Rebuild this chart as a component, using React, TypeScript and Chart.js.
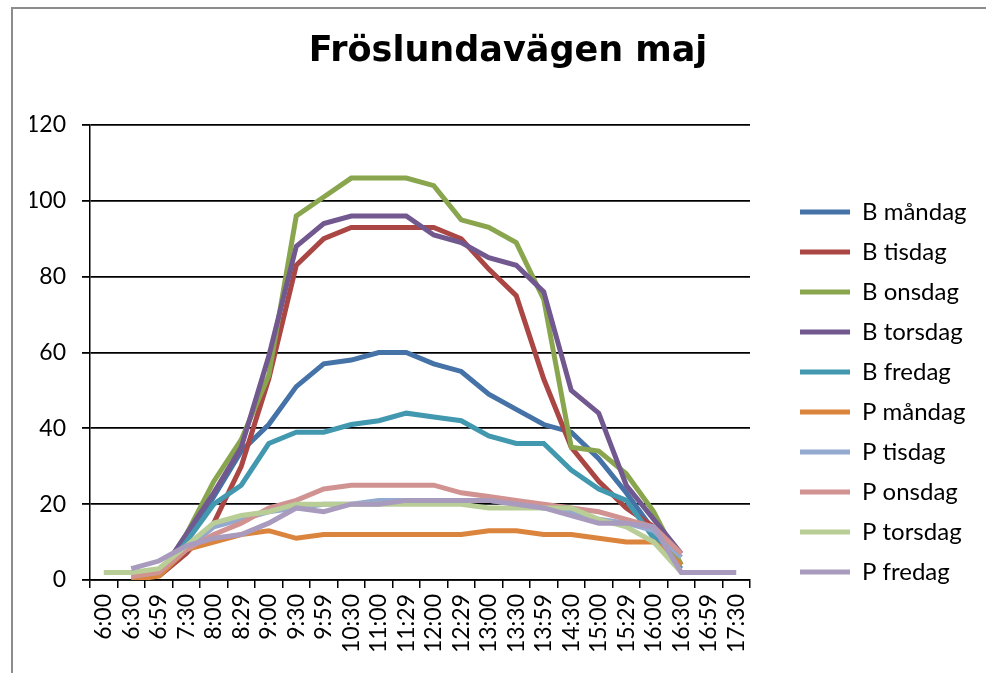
import React, { useEffect, useRef } from "react";
import { Chart, registerables } from "chart.js";

Chart.register(...registerables);

const TITLE = "Fröslundavägen maj";

const timeLabels = [
  "6:00", "6:30", "6:59", "7:30", "8:00", "8:29", "9:00", "9:30", "9:59", "10:30",
  "11:00", "11:29", "12:00", "12:29", "13:00", "13:30", "13:59", "14:30", "15:00",
  "15:29", "16:00", "16:30", "16:59", "17:30",
];

const seriesNames = [
  "B måndag", "B tisdag", "B onsdag", "B torsdag", "B fredag",
  "P måndag", "P tisdag", "P onsdag", "P torsdag", "P fredag",
];

const seriesColors = [
  "#4572A7", "#AA4643", "#89A54E", "#71588F", "#4198AF",
  "#DB843D", "#93A9CF", "#D19392", "#B9CD96", "#A99BBD",
];

const bMandag = [null, null, 1, 11, 22, 34, 41, 51, 57, 58, 60, 60, 57, 55, 49, 45, 41, 39, 32, 23, 13, 4, null, null];
const bTisdag = [null, null, 1, 7, 15, 30, 53, 83, 90, 93, 93, 93, 93, 90, 82, 75, 53, 35, 26, 19, 14, 4, null, null];
const bOnsdag = [null, null, 1, 12, 26, 37, 54, 96, 101, 106, 106, 106, 104, 95, 93, 89, 74, 35, 34, 28, 18, 4, null, null];
const bTorsdag = [null, null, 1, 12, 23, 35, 59, 88, 94, 96, 96, 96, 91, 89, 85, 83, 76, 50, 44, 25, 16, 7, null, null];
const bFredag = [null, null, 1, 10, 20, 25, 36, 39, 39, 41, 42, 44, 43, 42, 38, 36, 36, 29, 24, 21, 11, 3, null, null];
const pMandag = [null, 0, 1, 8, 10, 12, 13, 11, 12, 12, 12, 12, 12, 12, 13, 13, 12, 12, 11, 10, 10, 4, null, null];
const pTisdag = [null, 1, 2, 8, 14, 16, 18, 19, 20, 20, 21, 21, 21, 21, 21, 20, 19, 18, 16, 15, 13, 6, null, null];
const pOnsdag = [null, 1, 2, 8, 12, 15, 19, 21, 24, 25, 25, 25, 25, 23, 22, 21, 20, 19, 18, 16, 14, 7, null, null];
const pTorsdag = [2, 2, 3, 9, 15, 17, 18, 20, 20, 20, 20, 20, 20, 20, 19, 19, 19, 19, 16, 14, 10, 2, null, null];
const pFredag = [null, 3, 5, 9, 11, 12, 15, 19, 18, 20, 20, 21, 21, 21, 21, 20, 19, 17, 15, 15, 14, 2, 2, 2];

const seriesValues = [bMandag, bTisdag, bOnsdag, bTorsdag, bFredag, pMandag, pTisdag, pOnsdag, pTorsdag, pFredag];

const yTicks = [0, 20, 40, 60, 80, 100, 120];

const FONT = "Lato, 'Open Sans', sans-serif";
const TITLE_FONT = "'DejaVu Sans', sans-serif";

export default function App() {
  const canvasRef = useRef<HTMLCanvasElement | null>(null);

  useEffect(() => {
    const canvas = canvasRef.current;
    if (!canvas) return;
    const chart = new Chart(canvas, {
      type: "line",
      data: {
        labels: timeLabels,
        datasets: seriesNames.map((name, i) => ({
          label: name,
          data: seriesValues[i],
          borderColor: seriesColors[i],
          backgroundColor: seriesColors[i],
          borderWidth: 5,
          pointRadius: 0,
          pointHoverRadius: 0,
          tension: 0,
          fill: false,
          spanGaps: false,
          order: -i,
        })),
      },
      options: {
        animation: false,
        responsive: false,
        devicePixelRatio: 1,
        layout: { padding: { left: 30, right: 0, top: 0, bottom: 0 } },
        plugins: {
          tooltip: { enabled: false },
          title: {
            display: true,
            text: TITLE,
            color: "#000",
            font: { family: TITLE_FONT, size: 35, weight: "bold" },
            padding: { top: 31, bottom: 52 },
          },
          legend: {
            position: "right",
            align: "center",
            title: {
              display: true,
              text: "",
              font: { size: 10 },
              padding: { top: 99, bottom: 0 },
            },
            labels: {
              usePointStyle: true,
              pointStyle: "line",
              pointStyleWidth: 50,
              color: "#000",
              font: { family: FONT, size: 24 },
              padding: 16,
              sort: (a: any, b: any) => a.datasetIndex - b.datasetIndex,
            },
          },
        },
        scales: {
          x: {
            type: "category",
            offset: true,
            grid: {
              offset: true,
              drawOnChartArea: false,
              drawTicks: true,
              tickLength: 8,
              color: "#000",
              lineWidth: 1.5,
            },
            border: { display: true, color: "#000", width: 1.5 },
            ticks: {
              autoSkip: false,
              maxRotation: 90,
              minRotation: 90,
              color: "#000",
              font: { family: FONT, size: 23 },
              padding: 6,
            },
            afterFit: (s: any) => {
              s.height = 93;
            },
          },
          y: {
            min: 0,
            max: 120,
            afterBuildTicks: (s: any) => {
              s.ticks = yTicks.map((v) => ({ value: v }));
            },
            grid: {
              color: "#000",
              lineWidth: 1.8,
              tickLength: 8,
              drawTicks: true,
            },
            border: { display: true, color: "#000", width: 1.5 },
            ticks: {
              color: "#000",
              font: { family: FONT, size: 23 },
              padding: 16,
            },
            afterFit: (s: any) => {
              s.width = 60;
            },
          },
          y2: {
            position: "right",
            display: true,
            min: 0,
            max: 1,
            grid: { display: false, drawTicks: false },
            border: { display: false },
            ticks: { display: false },
            afterFit: (s: any) => {
              s.width = 34;
            },
          },
        },
      },
    });
    const legend: any = (chart as any).legend;
    if (legend) {
      const origFit = legend.fit.bind(legend);
      legend.fit = function () {
        origFit();
        this.width = 202;
      };
      chart.update();
    }
    return () => chart.destroy();
  }, []);

  return (
    <div
      style={{
        position: "absolute",
        left: 0,
        top: 0,
        width: 986,
        height: 673,
        overflow: "hidden",
        background: "#fff",
      }}
    >
      <canvas
        ref={canvasRef}
        width={986}
        height={673}
        style={{ position: "absolute", left: 0, top: 0, width: 986, height: 673 }}
      />
      <div
        style={{
          position: "absolute",
          left: 11,
          top: 7,
          width: 1000,
          height: 700,
          borderTop: "2px solid #8c8c8c",
          borderLeft: "2px solid #8c8c8c",
          pointerEvents: "none",
        }}
      />
    </div>
  );
}
